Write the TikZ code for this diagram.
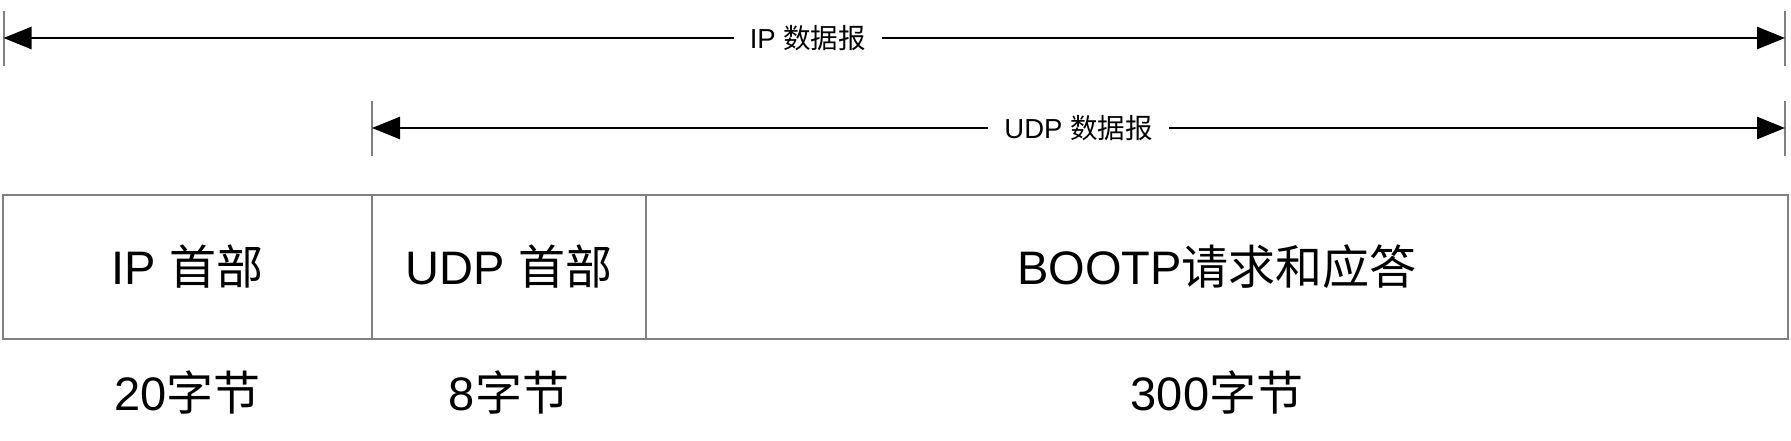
\documentclass[tikz,border=0pt]{standalone}
\usepackage{fontspec}
\setmainfont{Liberation Sans}
\newfontfamily\cjk{Noto Sans CJK SC}
\usetikzlibrary{arrows.meta}
\usetikzlibrary{positioning}

\begin{document}
\begin{tikzpicture}[x=1pt,y=-1pt]
  \tikzset{cell/.style = {draw=gray, line width=2.5pt, outer sep=0pt, inner sep=0pt, minimum height=144pt, font=\fontsize{47}{50}\selectfont},
           bytes/.style = {font=\fontsize{47}{50}\selectfont},
           bound/.style = {draw=gray, line width=2pt},
           span/.style = {{Triangle[length=28pt,width=22pt]}-{Triangle[length=28pt,width=22pt]}, line width=2.7pt},
           spanlabel/.style = {fill=white, inner xsep=16pt, font=\fontsize{27.5}{30}\selectfont}}
  \useasboundingbox (0,0) rectangle (1791,441);
  % the three fields
  \node[cell, minimum width=369pt, anchor=north west] (iphdr) at (3,195) {IP {\cjk 首部}};
  \node[cell, minimum width=274pt, right=0pt of iphdr] (udphdr) {UDP {\cjk 首部}};
  \node[cell, minimum width=1142pt, right=0pt of udphdr] (bootp) {BOOTP{\cjk 请求和应答}};
  \node[bytes, below=53pt of iphdr.south, anchor=center] (iplen) {20{\cjk 字节}};
  \node[bytes, below=53pt of udphdr.south, anchor=center] (udplen) {8{\cjk 字节}};
  \node[bytes, below=53pt of bootp.south, anchor=center] (bootplen) {300{\cjk 字节}};
  % datagram spans
  \coordinate (ipL) at (3.5,38);
  \coordinate (ipR) at (1785,38);
  \coordinate (udpL) at (372,128);
  \coordinate (udpR) at (1785,128);
  \foreach \c in {ipL,ipR,udpL,udpR}
    \draw[bound] ([yshift=27pt]\c) -- ([yshift=-28pt]\c);
  \draw[span] (ipL) -- node[spanlabel, pos=.4515] (iplbl) {IP {\cjk 数据报}} (ipR);
  \draw[span] (udpL) -- node[spanlabel] (udplbl) {UDP {\cjk 数据报}} (udpR);
\end{tikzpicture}
\end{document}
